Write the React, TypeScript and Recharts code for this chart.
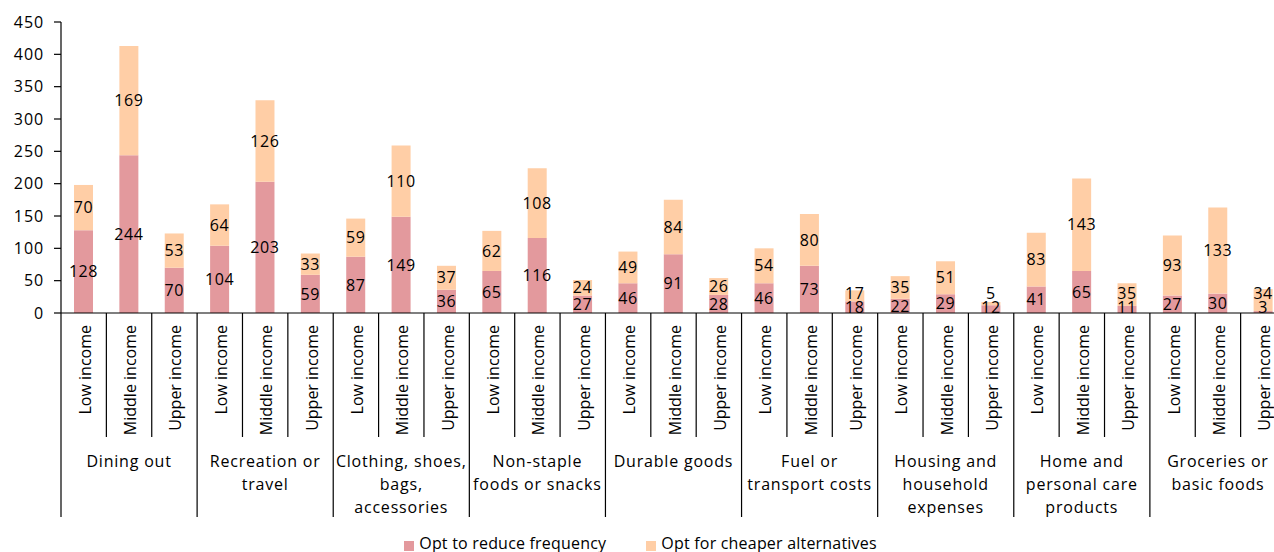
import { BarChart, Bar, XAxis, YAxis, LabelList } from "recharts";

// spending categories, each split into three income bands
const incomeBands = ["Low income", "Middle income", "Upper income"];
const categoryLines = [
  ["Dining out"],
  ["Recreation or", "travel"],
  ["Clothing, shoes,", "bags,", "accessories"],
  ["Non-staple", "foods or snacks"],
  ["Durable goods"],
  ["Fuel or", "transport costs"],
  ["Housing and", "household", "expenses"],
  ["Home and", "personal care", "products"],
  ["Groceries or", "basic foods"],
];

// counts per category, in Low / Middle / Upper order
const reduceFrequency = [
  128, 244, 70,
  104, 203, 59,
  87, 149, 36,
  65, 116, 27,
  46, 91, 28,
  46, 73, 18,
  22, 29, 12,
  41, 65, 11,
  27, 30, 3,
];
const cheaperAlternatives = [
  70, 169, 53,
  64, 126, 33,
  59, 110, 37,
  62, 108, 24,
  49, 84, 26,
  54, 80, 17,
  35, 51, 5,
  83, 143, 35,
  93, 133, 34,
];

const yTicks = [0, 50, 100, 150, 200, 250, 300, 350, 400, 450];

const seriesNames = ["Opt to reduce frequency", "Opt for cheaper alternatives"];
const COLORS = ["#E3999D", "#FFCEA6"];

const rows = categoryLines.flatMap((lines, gi) =>
  incomeBands.map((band, bi) => ({
    key: `${gi}-${bi}`,
    income: band,
    groupIndex: gi,
    bandIndex: bi,
    reduce: reduceFrequency[gi * 3 + bi],
    cheaper: cheaperAlternatives[gi * 3 + bi],
  }))
);

const FONT = "'Open Sans', sans-serif";
const CHART_W = 1286;
const CHART_H = 552;
const LEFT = 61;
const AXIS_Y = 313;
const SLOT = (CHART_W - LEFT) / rows.length;

// labels on thin segments: keep the lower one off the axis and the upper one clear of it
const BOTTOM_CLAMP = 6;
const MIN_GAP = 14;

function lowerCenter(top: number) {
  return Math.min((top + AXIS_Y) / 2, AXIS_Y - BOTTOM_CLAMP);
}

function SegmentLabel(props: any) {
  const { x, y, width, height, value, series } = props;
  const cx = x + width / 2;
  let cy = y + height / 2;
  if (series === "reduce") {
    cy = lowerCenter(y);
  } else {
    const below = lowerCenter(y + height);
    if (below - cy < MIN_GAP) cy = below - MIN_GAP;
  }
  return (
    <text x={cx} y={cy} dy="0.355em" textAnchor="middle" fontSize={16} fontFamily={FONT} letterSpacing={0.6} fill="#000">
      {value}
    </text>
  );
}

function CategoryTick(props: any) {
  const { x, payload } = props;
  const row = rows[payload.index];
  const half = payload.offset ?? SLOT / 2;
  const leftX = x - half;
  const rightX = x + half;
  const firstInGroup = row.bandIndex === 0;
  const isLast = payload.index === rows.length - 1;
  const lines = categoryLines[row.groupIndex];
  return (
    <g>
      <line x1={leftX} x2={leftX} y1={AXIS_Y} y2={firstInGroup ? 517 : 437} stroke="#000" strokeWidth={1.2} />
      {isLast && <line x1={rightX} x2={rightX} y1={AXIS_Y} y2={517} stroke="#000" strokeWidth={1.2} />}
      <text
        x={x + 7}
        y={325}
        transform={`rotate(-90, ${x + 7}, 325)`}
        textAnchor="end"
        fontSize={16}
        fontFamily={FONT}
        fill="#000"
      >
        {row.income}
      </text>
      {row.bandIndex === 1 &&
        lines.map((ln, i) => (
          <text
            key={i}
            x={x}
            y={467 + i * 23}
            textAnchor="middle"
            fontSize={16}
            fontFamily={FONT}
            letterSpacing={0.8}
            fill="#000"
          >
            {ln}
          </text>
        ))}
    </g>
  );
}

export default function App() {
  return (
    <div style={{ position: "absolute", left: 0, top: 0, width: 1274, height: 552, overflow: "hidden", background: "#fff" }}>
      <BarChart
        width={CHART_W}
        height={CHART_H}
        data={rows}
        margin={{ top: 22, right: 0, bottom: 0, left: 0 }}
        barSize={19}
      >
        <XAxis
          dataKey="key"
          interval={0}
          height={CHART_H - AXIS_Y}
          tickLine={false}
          axisLine={{ stroke: "#000", strokeWidth: 1.2 }}
          tick={<CategoryTick />}
        />
        <YAxis
          width={LEFT}
          domain={[0, 450]}
          ticks={yTicks}
          interval={0}
          axisLine={{ stroke: "#000", strokeWidth: 1.2 }}
          tickLine={{ stroke: "#000", strokeWidth: 1.2 }}
          tickSize={7}
          tickMargin={10}
          tick={{ fill: "#000", fontSize: 16, fontFamily: FONT, letterSpacing: 0.9 }}
        />
        <Bar dataKey="reduce" name={seriesNames[0]} stackId="a" fill={COLORS[0]} isAnimationActive={false}>
          <LabelList dataKey="reduce" content={(p: any) => <SegmentLabel {...p} series="reduce" />} />
        </Bar>
        <Bar dataKey="cheaper" name={seriesNames[1]} stackId="a" fill={COLORS[1]} isAnimationActive={false}>
          <LabelList dataKey="cheaper" content={(p: any) => <SegmentLabel {...p} series="cheaper" />} />
        </Bar>
      </BarChart>
      <div
        style={{
          position: "absolute",
          left: 0,
          top: 533,
          width: 1281,
          display: "flex",
          justifyContent: "center",
          fontFamily: FONT,
          fontSize: 16,
          lineHeight: "20px",
          color: "#000",
          letterSpacing: 0.2,
        }}
      >
        {seriesNames.map((name, i) => (
          <div key={name} style={{ display: "flex", alignItems: "flex-start", marginLeft: i === 0 ? 0 : 40 }}>
            <span style={{ width: 10, height: 10, background: COLORS[i], marginTop: 8, marginRight: 5 }} />
            <span>{name}</span>
          </div>
        ))}
      </div>
    </div>
  );
}
